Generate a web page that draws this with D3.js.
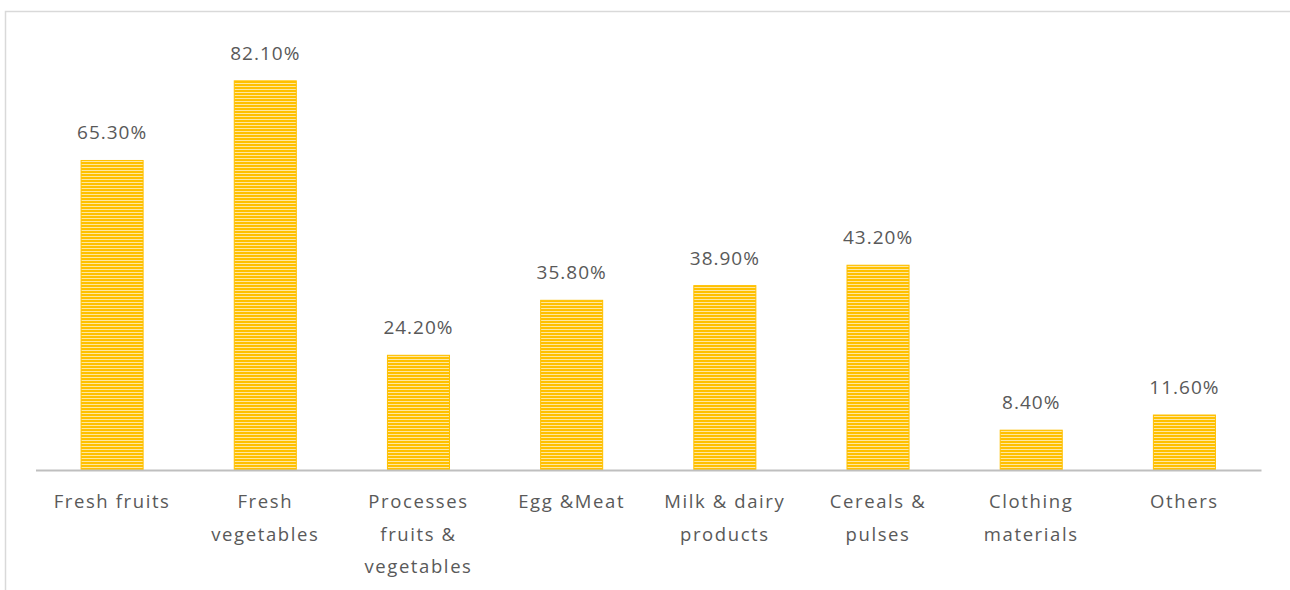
<!DOCTYPE html>
<html>
<head>
<meta charset="utf-8">
<script src="https://cdn.jsdelivr.net/npm/d3@7"></script>
<style>
  html, body { margin: 0; padding: 0; background: #ffffff; }
  svg { display: block; }
  text { font-family: "Open Sans", "Noto Sans", sans-serif; fill: #595959; }
</style>
</head>
<body>
<svg id="chart" width="1290" height="590"></svg>
<script>
// Share of purchases by product category (%)
const categories = [
  "Fresh fruits",
  "Fresh vegetables",
  "Processes fruits & vegetables",
  "Egg &Meat",
  "Milk & dairy products",
  "Cereals & pulses",
  "Clothing materials",
  "Others"
];
const values = [65.3, 82.1, 24.2, 35.8, 38.9, 43.2, 8.4, 11.6];
// Wrapped lines for the category axis labels
const tickLabels = [
  ["Fresh fruits"],
  ["Fresh", "vegetables"],
  ["Processes", "fruits &", "vegetables"],
  ["Egg &Meat"],
  ["Milk & dairy", "products"],
  ["Cereals &", "pulses"],
  ["Clothing", "materials"],
  ["Others"]
];

const svg = d3.select("#chart");
const W = 1290, H = 590;

// outer frame
svg.append("rect")
  .attr("x", 5.5).attr("y", 11.5)
  .attr("width", W + 10).attr("height", H + 10)
  .attr("fill", "none")
  .attr("stroke", "#d9d9d9")
  .attr("stroke-width", 1.5);

// striped fill for the bars
const defs = svg.append("defs");
const pat = defs.append("pattern")
  .attr("id", "stripes")
  .attr("patternUnits", "userSpaceOnUse")
  .attr("width", 8).attr("height", 3);
pat.append("rect").attr("width", 8).attr("height", 3).attr("fill", "#ffc000");
pat.append("rect").attr("y", 2).attr("width", 8).attr("height", 1).attr("fill", "#ffe7a0");

const baseY = 470;
const x = d3.scaleBand()
  .domain(categories)
  .range([35.5, 1261])
  .paddingInner(0.595)
  .paddingOuter(0.2975);

const y = d3.scaleLinear()
  .domain([0, 90])
  .range([baseY, baseY - 90 * 4.74]);

const g = svg.append("g");

g.selectAll("rect.bar")
  .data(values)
  .join("rect")
  .attr("class", "bar")
  .attr("x", (d, i) => x(categories[i]))
  .attr("width", x.bandwidth())
  .attr("y", d => y(d))
  .attr("height", d => baseY - y(d))
  .attr("fill", "url(#stripes)")
  .attr("stroke", "#ffc000")
  .attr("stroke-width", 1);

// value labels
g.selectAll("text.val")
  .data(values)
  .join("text")
  .attr("class", "val")
  .attr("x", (d, i) => x(categories[i]) + x.bandwidth() / 2)
  .attr("y", d => y(d) - 21)
  .attr("text-anchor", "middle")
  .attr("font-size", 19)
  .attr("letter-spacing", 1)
  .text(d => d.toFixed(2) + "%");

// category axis
const axis = svg.append("g")
  .attr("transform", `translate(0,${baseY})`)
  .call(d3.axisBottom(x).tickSize(0).tickFormat(""));
axis.select(".domain")
  .attr("stroke", "#bfbfbf")
  .attr("stroke-width", 2);

axis.selectAll(".tick").each(function (d, i) {
  const t = d3.select(this).append("text")
    .attr("text-anchor", "middle")
    .attr("font-size", 18.5)
    .attr("letter-spacing", 1.6)
    .attr("fill", "#595959");
  tickLabels[i].forEach((line, k) => {
    t.append("tspan")
      .attr("x", 0)
      .attr("y", 38 + k * 32.5)
      .text(line);
  });
});
</script>
</body>
</html>
